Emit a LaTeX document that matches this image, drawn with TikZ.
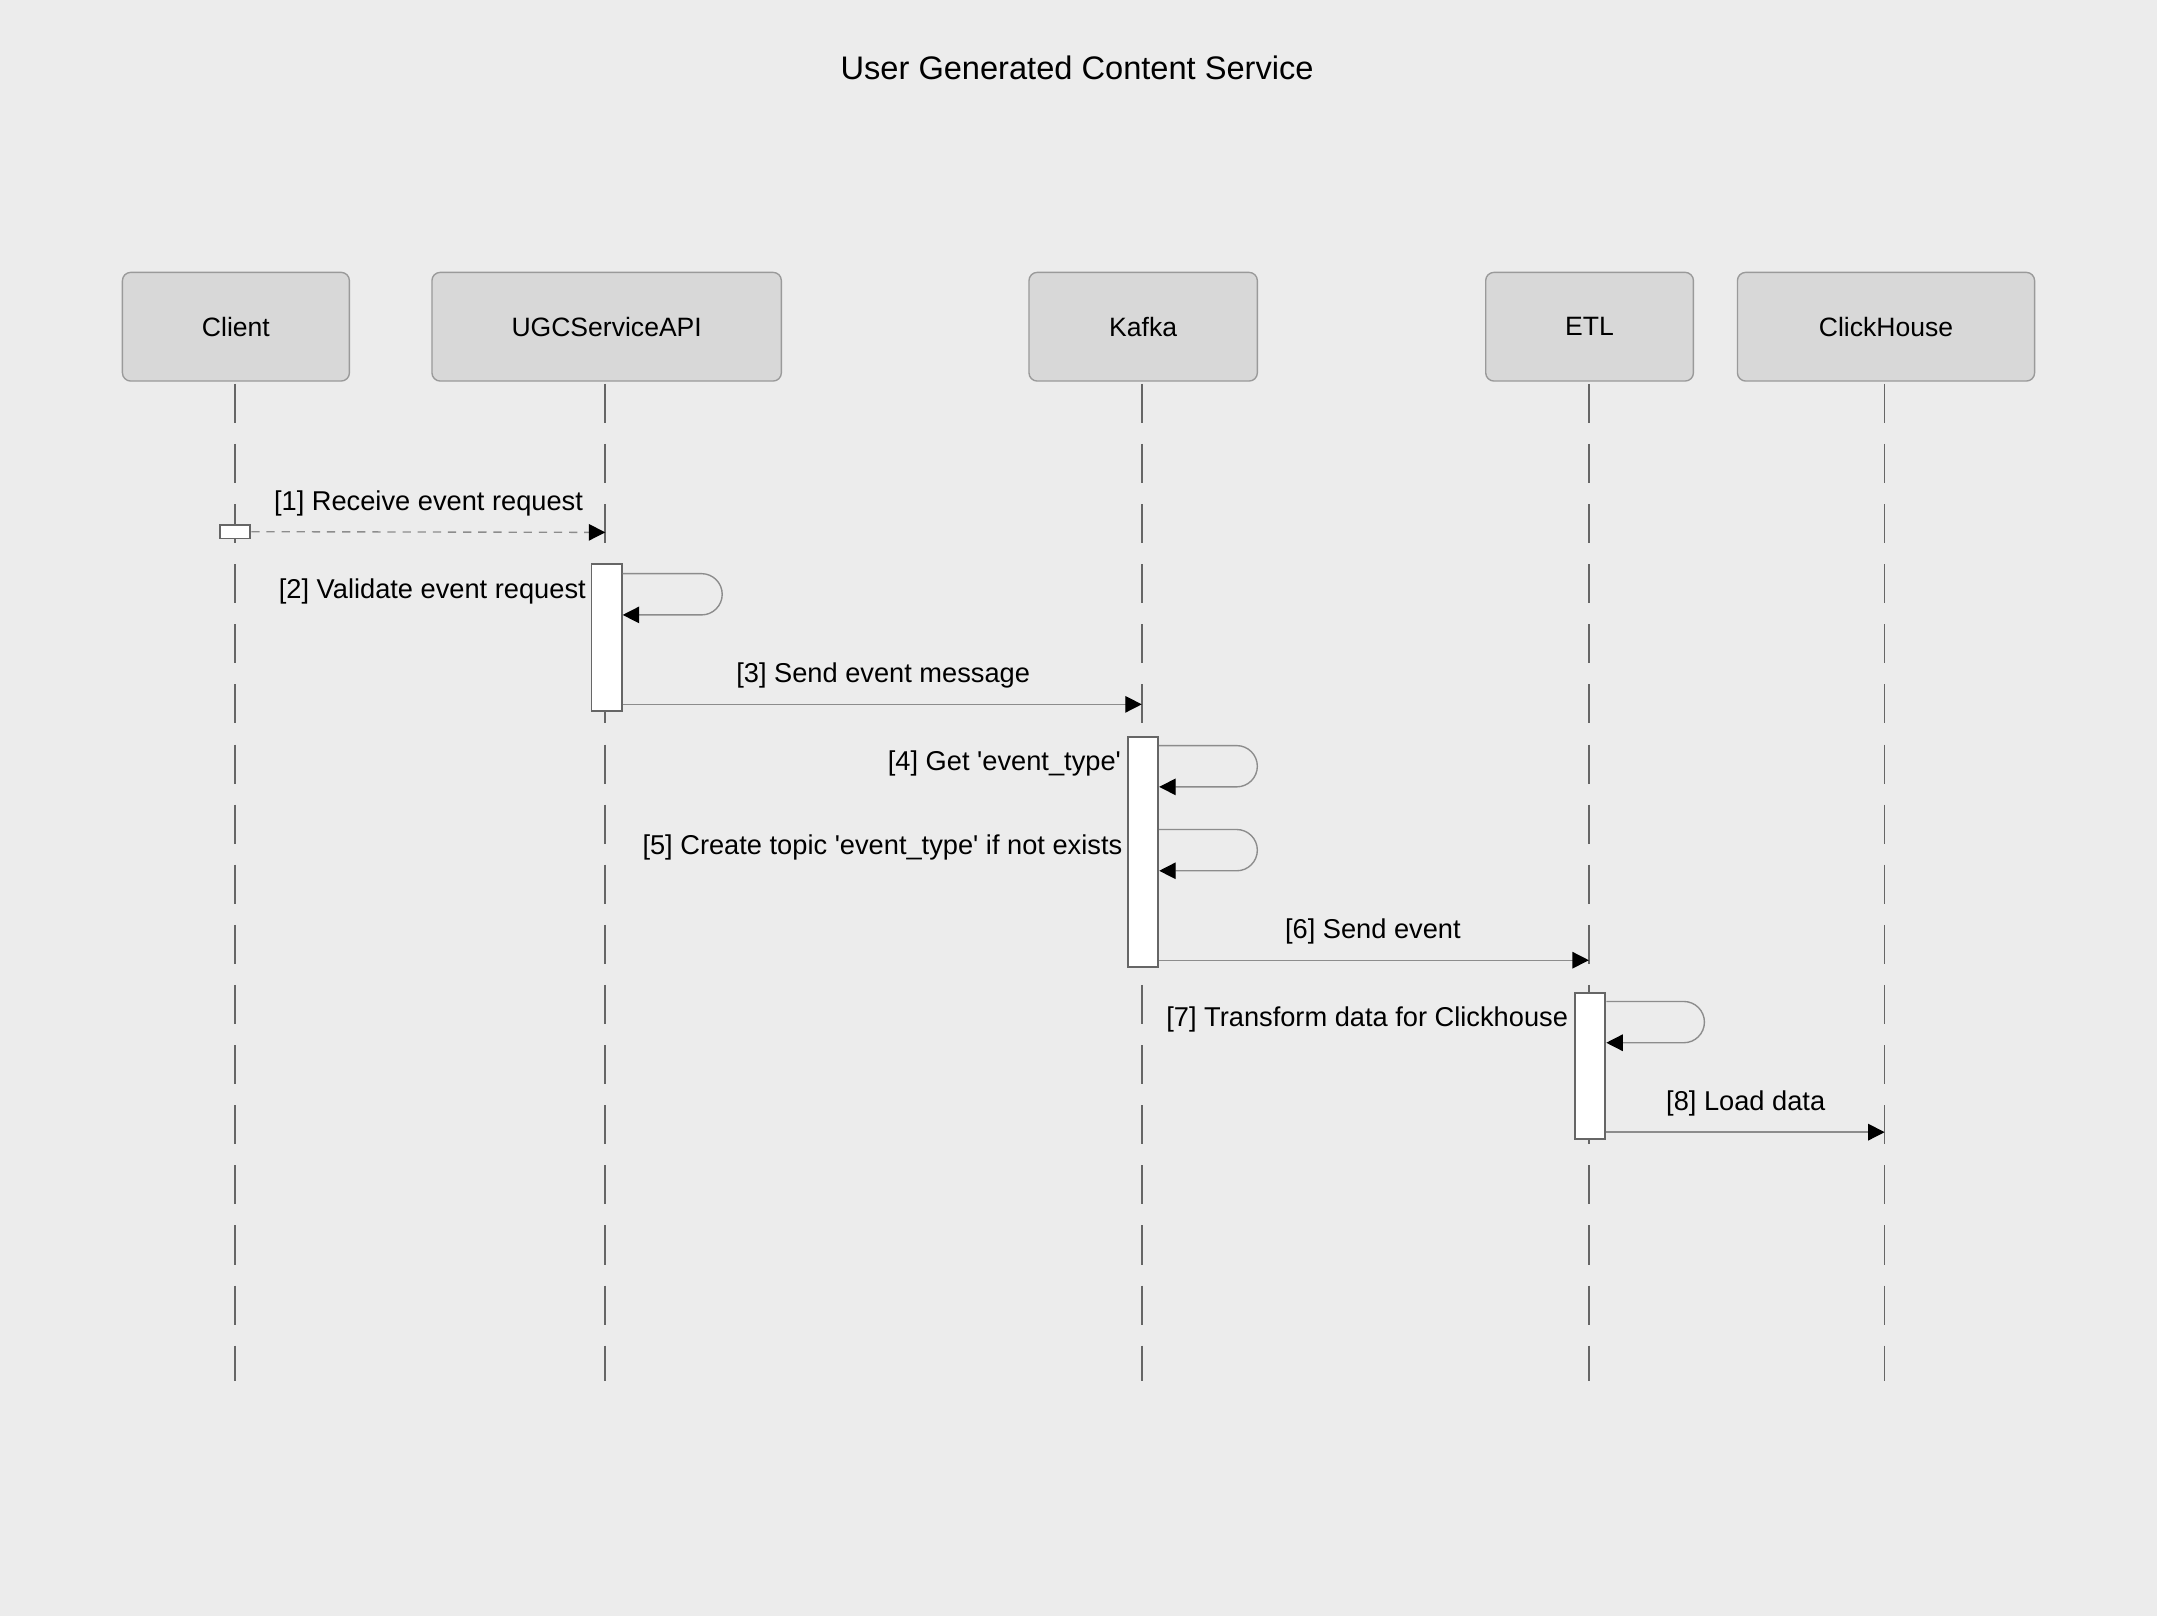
\documentclass[tikz,border=0pt]{standalone}
\usepackage{fontspec}
\setmainfont{Liberation Sans}
\usetikzlibrary{arrows.meta,calc}
\definecolor{bg}{HTML}{ECECEC}
\definecolor{boxfill}{HTML}{D8D8D8}
\definecolor{boxdraw}{HTML}{9A9A9A}
\definecolor{lifecol}{HTML}{666666}
\definecolor{msgcol}{HTML}{8C8C8C}
\newcommand{\sq}{\textquotesingle}
\begin{document}
\begin{tikzpicture}[x=1pt,y=-1pt,
  participant/.style={draw=boxdraw,fill=boxfill,line width=1pt,rounded corners=6pt,
    minimum height=79pt,inner sep=0pt,font=\fontsize{19.3}{22}\selectfont},
  lifeline/.style={draw=lifecol,line width=1.2pt,dash pattern=on 28.4pt off 15.3pt},
  activation/.style={draw=lifecol,fill=white,line width=1.3pt,minimum width=22pt,inner sep=0pt},
  msg/.style={draw=msgcol,line width=1pt,-{Triangle[length=12pt,width=12pt,color=black]}},
  selfmsg/.style={msg,rounded corners=15pt},
  asyncmsg/.style={msg,dash pattern=on 6pt off 5pt},
  lbl/.style={font=\fontsize{19.8}{23}\selectfont,inner sep=0pt,text=black}
]
\useasboundingbox[fill=bg] (0,0) rectangle (1568,1175);

\node[font=\fontsize{23.7}{28}\selectfont] (title) at (783,49) {User Generated Content Service};

% participants
\node[participant,minimum width=165pt] (client) at (171.5,237.5) {Client};
\node[participant,minimum width=254pt] (ugc) at (441,237.5) {UGCServiceAPI};
\node[participant,minimum width=166pt] (kafka) at (831,237.5) {Kafka};
\node[participant,minimum width=151pt] (etl) at (1155.5,237.5) {ETL};
\node[participant,minimum width=216pt] (ch) at (1371,237.5) {ClickHouse};

% lifeline ends
\coordinate (clB) at (171,1004);
\coordinate (ugB) at (440,1004);
\coordinate (kaB) at (830,1004);
\coordinate (etB) at (1155,1004);
\coordinate (chB) at (1370,1004);
\draw[lifeline] (171,279) -- (clB);
\draw[lifeline] (440,279) -- (ugB);
\draw[lifeline] (830,279) -- (kaB);
\draw[lifeline] (1155,279) -- (etB);
\draw[lifeline] (1370,279) -- (chB);

% activations
\node[activation,minimum width=22pt,minimum height=10pt] (act1) at (171,386.5) {};
\node[activation,minimum height=107pt] (act2) at (441,463.5) {};
\node[activation,minimum height=167pt] (act3) at (831,619.5) {};
\node[activation,minimum height=106pt] (act4) at (1156,775) {};

% message end points
\coordinate (m1e) at (440,387);
\coordinate (s2a) at (525,417);
\coordinate (s2b) at (525,447);
\coordinate (m3e) at (830,512);
\coordinate (s4a) at (914,542);
\coordinate (s4b) at (914,572);
\coordinate (s5a) at (914,603);
\coordinate (s5b) at (914,633);
\coordinate (m6e) at (1155,698);
\coordinate (s7a) at (1239,728);
\coordinate (s7b) at (1239,758);
\coordinate (m8e) at (1370,823);

% messages
\draw[asyncmsg] (act1.east) -- (m1e);
\node[lbl] (l1) at (311.5,366) {[1] Receive event request};

\draw[selfmsg] (act2.east |- s2a) -- (s2a) -- (s2b) -- (act2.east |- s2b);
\node[lbl,anchor=east] (l2) at (426,430) {[2] Validate event request};

\draw[msg] (act2.east |- m3e) -- (m3e);
\node[lbl] (l3) at (642,491) {[3] Send event message};

\draw[selfmsg] (act3.east |- s4a) -- (s4a) -- (s4b) -- (act3.east |- s4b);
\node[lbl,anchor=east] (l4) at (815,555) {[4] Get \sq event\_type\sq};

\draw[selfmsg] (act3.east |- s5a) -- (s5a) -- (s5b) -- (act3.east |- s5b);
\node[lbl,anchor=east] (l5) at (816,616) {[5] Create topic \sq event\_type\sq\ if not exists};

\draw[msg] (act3.east |- m6e) -- (m6e);
\node[lbl] (l6) at (998,677) {[6] Send event};

\draw[selfmsg] (act4.east |- s7a) -- (s7a) -- (s7b) -- (act4.east |- s7b);
\node[lbl,anchor=east] (l7) at (1140,741) {[7] Transform data for Clickhouse};

\draw[msg] (act4.east |- m8e) -- (m8e);
\node[lbl] (l8) at (1269,802) {[8] Load data};
\end{tikzpicture}
\end{document}
